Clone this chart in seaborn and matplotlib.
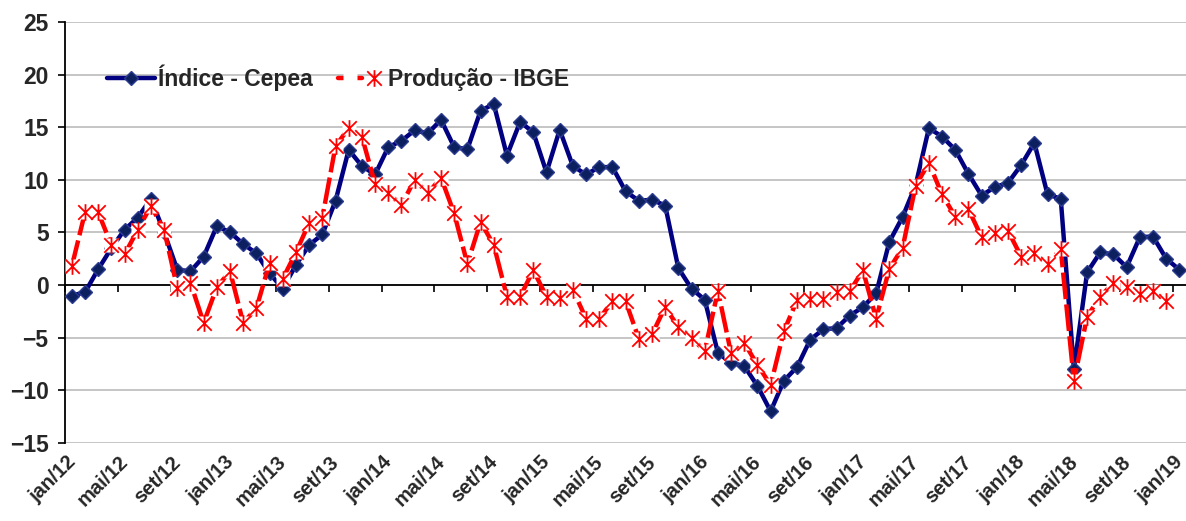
import numpy as np
import pandas as pd
import matplotlib
matplotlib.use("Agg")
import matplotlib.pyplot as plt
from matplotlib.path import Path
from matplotlib.lines import Line2D
from matplotlib.transforms import ScaledTranslation
from matplotlib.legend_handler import HandlerTuple
import seaborn as sns

# meses jan/12 .. jan/19
anos = [12, 13, 14, 15, 16, 17, 18, 19]
meses = ["jan", "fev", "mar", "abr", "mai", "jun", "jul", "ago", "set", "out", "nov", "dez"]
periodos = [f"{m}/{a}" for a in anos for m in meses][:85]

cepea = [-1.0, -0.7, 1.5, 3.5, 5.25, 6.4, 8.2, 5.0, 1.45, 1.3, 2.7, 5.6,
         5.0, 3.9, 3.0, 1.1, -0.35, 1.9, 3.8, 4.8, 8.0, 12.85, 11.3, 10.5,
         13.1, 13.7, 14.7, 14.4, 15.7, 13.1, 12.9, 16.55, 17.2, 12.3, 15.5, 14.5,
         10.7, 14.75, 11.3, 10.5, 11.2, 11.2, 8.9, 8.0, 8.1, 7.55, 1.6, -0.35,
         -1.4, -6.45, -7.4, -7.7, -9.6, -12.0, -9.1, -7.8, -5.2, -4.2, -4.1, -2.9,
         -2.1, -0.8, 4.1, 6.45, 9.5, 14.9, 14.1, 12.85, 10.55, 8.5, 9.3, 9.7,
         11.4, 13.5, 8.6, 8.2, -8.0, 1.2, 3.1, 2.9, 1.7, 4.55, 4.6, 2.5,
         1.45]

ibge = [1.77, 6.9, 6.9, 3.8, 2.9, 5.25, 7.5, 5.25, -0.3, 0.2, -3.6, -0.2,
        1.3, -3.6, -2.2, 2.1, 0.6, 3.1, 5.9, 6.4, 13.2, 14.9, 14.1, 9.6,
        8.7, 7.6, 10.0, 8.7, 10.2, 6.8, 2.0, 6.0, 3.8, -1.1, -1.1, 1.4,
        -1.1, -1.2, -0.45, -3.2, -3.2, -1.55, -1.55, -5.1, -4.7, -2.1, -4.0, -5.0,
        -6.3, -0.55, -6.5, -5.5, -7.6, -9.5, -4.4, -1.45, -1.3, -1.3, -0.66, -0.6,
        1.4, -3.2, 1.55, 3.5, 9.45, 11.6, 8.6, 6.5, 7.2, 4.55, 4.9, 5.15,
        2.7, 3.0, 2.0, 3.45, -9.15, -3.0, -1.1, 0.2, -0.2, -0.9, -0.55, -1.55]

df_c = pd.DataFrame({"i": np.arange(len(cepea)), "v": cepea})
df_i = pd.DataFrame({"i": np.arange(len(ibge)), "v": ibge})

sns.set_style("white")
plt.rcParams["font.family"] = ["Liberation Sans", "DejaVu Sans"]
plt.rcParams["font.weight"] = "bold"

fig = plt.figure(figsize=(11.86, 5.21), dpi=100)
ax = fig.add_axes([0.055, 0.150, 0.945, 0.808])

# grade horizontal
for y in range(-15, 30, 5):
    ax.axhline(y, color="#c0c0c0", lw=1.3, zorder=0)

star = Path([(-1, -1), (1, 1), (-1, 1), (1, -1), (0, -1.15), (0, 1.15)],
            [Path.MOVETO, Path.LINETO, Path.MOVETO, Path.LINETO, Path.MOVETO, Path.LINETO])

sns.lineplot(data=df_c, x="i", y="v", ax=ax, color="#000080", lw=3.2,
             marker="D", ms=7.2, mfc="#0c2060", mec="#2b3b90", mew=1.0, zorder=3)
l_c = ax.lines[-1]

sns.lineplot(data=df_i, x="i", y="v", ax=ax, color="#ff0000", lw=3.2,
             marker="s", ms=10, mfc="white", mec="none", zorder=4)
l_i = ax.lines[-1]
l_i.set_dashes((6, 1.2))
sns.lineplot(data=df_i, x="i", y="v", ax=ax, color="#ff0000", lw=0,
             marker=star, ms=12, mfc="none", mec="#ff0000", mew=1.3, zorder=5)
l_s = ax.lines[-1]

ax.set_xlim(-0.5, 84.5)
ax.set_ylim(-15, 25)
ax.set_yticks(range(-15, 30, 5))
ax.tick_params(axis="y", direction="out", length=5, width=1.2, color="black",
               labelsize=16.5, pad=7, left=True)
ax.set_ylabel("")
ax.set_xlabel("")

pos = list(range(0, 85, 4))
ax.set_xticks(pos)
ax.set_xticklabels([periodos[p] for p in pos], rotation=45, ha="right",
                   rotation_mode="anchor", fontsize=14.5, fontweight="bold")
ax.tick_params(axis="x", length=0, pad=7)
shift = ScaledTranslation(-0.06, 0, fig.dpi_scale_trans)
for lab in ax.get_xticklabels():
    lab.set_transform(lab.get_transform() + shift)

for s in ["top", "right", "bottom"]:
    ax.spines[s].set_visible(False)
ax.spines["left"].set_color("black")
ax.spines["left"].set_linewidth(1.3)

# eixo das categorias cruzando em zero
sec = ax.secondary_xaxis(15 / 40)
sec.set_xticks([p - 0.5 for p in range(0, 85, 4)])
sec.set_xticklabels([])
sec.tick_params(direction="out", length=5, width=1.2, color="black")
sec.spines["bottom"].set_color("black")
sec.spines["bottom"].set_linewidth(1.3)
sec.spines["bottom"].set_zorder(1)

# legenda: linha vermelha continua com o asterisco
h_i = Line2D([], [], color="#ff0000", lw=3.2, marker="s", ms=10, mfc="white", mec="none")
ax.legend([l_c, (h_i, l_s)], ["Índice - Cepea", "Produção - IBGE"],
          handler_map={tuple: HandlerTuple(ndivide=None)},
          loc="center left", bbox_to_anchor=(0.037, 0.868), ncol=2, frameon=False,
          handlelength=2.1, handletextpad=0.12, columnspacing=1.1,
          borderpad=0, borderaxespad=0, prop={"weight": "bold", "size": 16.5})

fig.savefig("out.png", dpi=100)
